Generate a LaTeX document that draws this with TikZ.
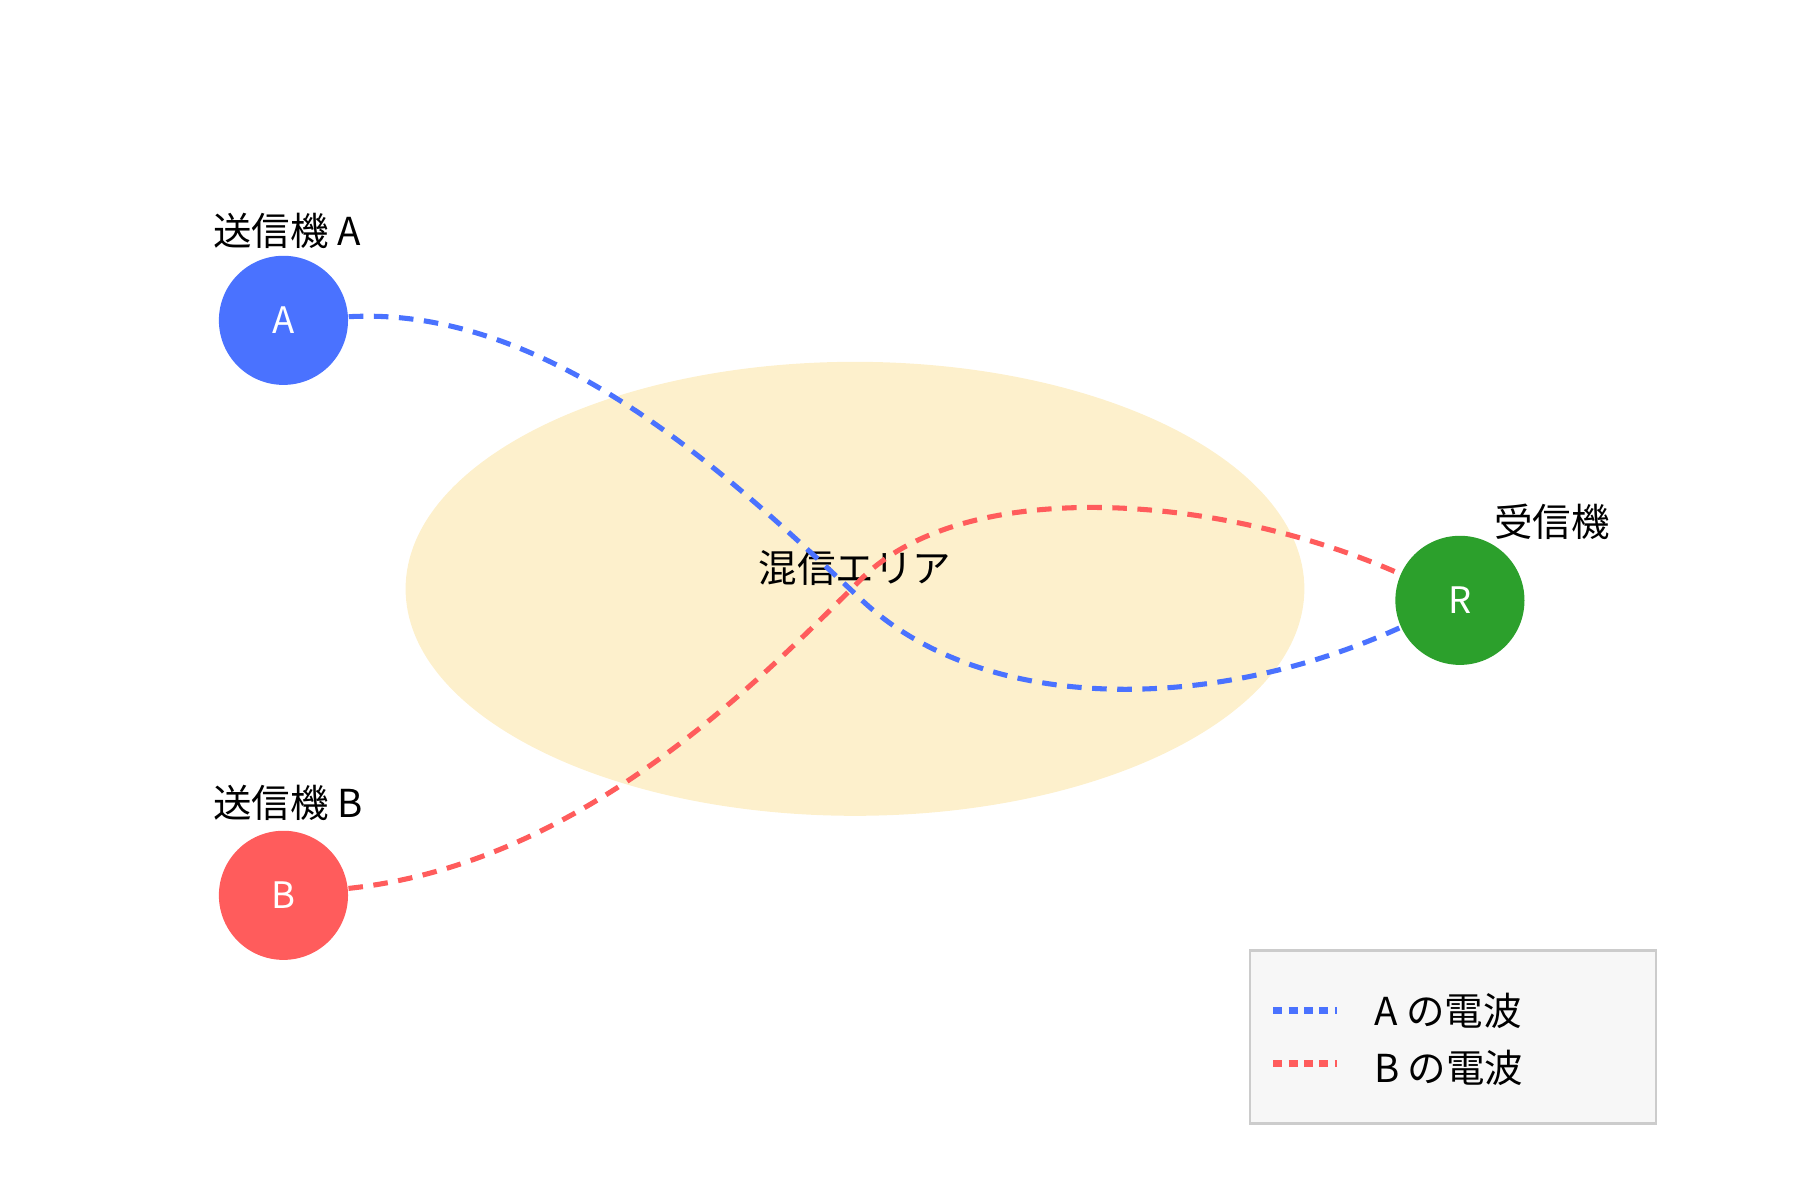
\documentclass[tikz,border=0pt]{standalone}
\usepackage{fontspec}
\setmainfont{Noto Sans CJK JP}
\definecolor{cA}{HTML}{4A72FF}
\definecolor{cB}{HTML}{FF5C5C}
\definecolor{cR}{HTML}{2CA02C}
\definecolor{area}{HTML}{FDF0CC}
\tikzset{
 station/.style={circle,minimum size=1.12cm,inner sep=0,text=white,font=\fontsize{9}{10}\selectfont},
 lbl/.style={font=\fontsize{9.5}{11}\selectfont},
 wave/.style={line width=1.25pt,dash pattern=on 3.6pt off 2.6pt},
 legwave/.style={line width=1.9pt,dash pattern=on 2.2pt off 1.6pt}
}
\begin{document}
\begin{tikzpicture}[x=0.01cm,y=-0.01cm]
\useasboundingbox (0,0) rectangle (1563,1042);
\fill[area] (742,511) ellipse [x radius=390,y radius=197];
\node[lbl] (area) at (742,493) {混信エリア};
\node[station,fill=cA] (A) at (246,278) {A};
\node[station,fill=cB] (B) at (246,777) {B};
\node[station,fill=cR] (R) at (1267,521) {R};
\node[lbl] (la) at (249,200) {送信機 A};
\node[lbl] (lb) at (250,697) {送信機 B};
\node[lbl] (lr) at (1347,453) {受信機};
\coordinate (X1) at (745,518);
\coordinate (X2) at (745,505);
\draw[wave,cA] (A) .. controls (480,265) and (640,420) .. (X1) .. controls (850,620) and (1050,620) .. (R);
\draw[wave,cB] (B) .. controls (500,750) and (650,600) .. (X2) .. controls (830,415) and (1050,425) .. (R);
\node[draw={rgb,255:red,204;green,204;blue,204},line width=0.6pt,fill={rgb,255:red,247;green,247;blue,247},minimum width=3.52cm,minimum height=1.5cm,inner sep=0] (leg) at (1261,900) {};
\coordinate (l1a) at (1105,877); \coordinate (l1b) at (1160,877);
\coordinate (l2a) at (1105,923); \coordinate (l2b) at (1160,923);
\draw[legwave,cA] (l1a) -- (l1b);
\draw[legwave,cB] (l2a) -- (l2b);
\node[lbl,anchor=west] (t1) at (1180,877) {A の電波};
\node[lbl,anchor=west] (t2) at (1180,927) {B の電波};
\end{tikzpicture}
\end{document}
